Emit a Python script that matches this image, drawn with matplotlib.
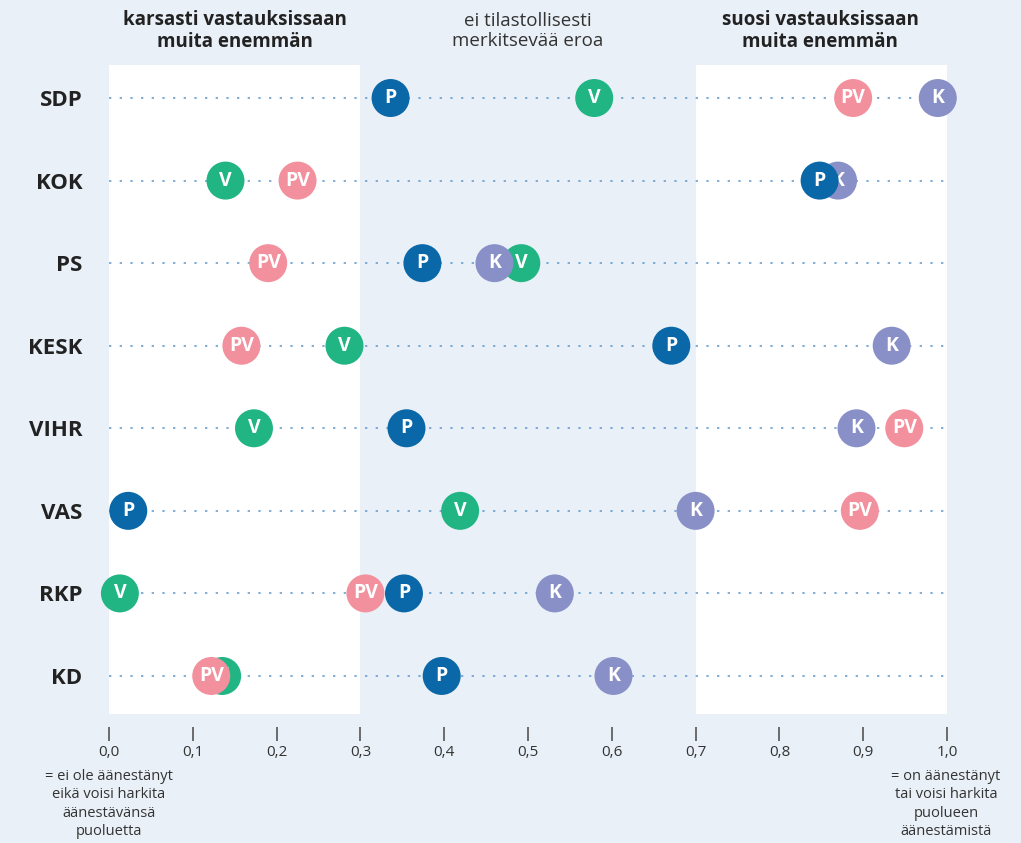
import matplotlib.pyplot as plt

# party rows, top to bottom
parties = ['SDP', 'KOK', 'PS', 'KESK', 'VIHR', 'VAS', 'RKP', 'KD']

# values (0 = ei ole äänestänyt ..., 1 = on äänestänyt ...)
v_vals = [0.579, 0.139, 0.492, 0.281, 0.173, 0.419, 0.013, 0.135]
k_vals = [0.989, 0.870, 0.460, 0.934, 0.892, 0.700, 0.532, 0.602]
p_vals = [0.336, 0.848, 0.374, 0.671, 0.355, 0.023, 0.352, 0.397]
pv_vals = [0.888, 0.225, 0.190, 0.158, 0.949, 0.896, 0.306, 0.122]

groups = ['V', 'K', 'P', 'PV']
group_vals = [v_vals, k_vals, p_vals, pv_vals]
group_colors = ['#21b583', '#8990c8', '#0a67a8', '#f3909d']

x_ticks = [0.0, 0.1, 0.2, 0.3, 0.4, 0.5, 0.6, 0.7, 0.8, 0.9, 1.0]

bg = '#e9f0f7'
font = 'Open Sans'

W, H = 1021, 843
fig = plt.figure(figsize=(W / 100, H / 100), dpi=100, facecolor=bg)
# axes placed in pixel terms: x 109..947, y 65..727
ax = fig.add_axes([109 / W, 1 - 727 / H, (947 - 109) / W, (727 - 65) / H])
ax.set_facecolor(bg)

ax.set_xlim(0, 1)
ax.set_ylim(7.618, -0.4)

# white zones (significant difference)
band_ymin = (727 - 714) / (727 - 65)
ax.axvspan(0, 0.3, ymin=band_ymin, ymax=1, color='white', lw=0, zorder=0)
ax.axvspan(0.7, 1.0, ymin=band_ymin, ymax=1, color='white', lw=0, zorder=0)

rows = list(range(len(parties)))
ax.hlines(rows, 0, 1, colors='#6b9fd4', linestyles=(0, (1.4, 5)), lw=1.2, zorder=1)

for gi, (name, vals, col) in enumerate(zip(groups, group_vals, group_colors)):
    ax.scatter(vals, rows, s=748, color=col, edgecolors='none', zorder=2 + gi * 2, clip_on=False)
    for x, y in zip(vals, rows):
        ax.text(x, y, name, ha='center', va='center', color='white', fontsize=14,
                fontweight='bold', family=font, zorder=3 + gi * 2)

for s in ax.spines.values():
    s.set_visible(False)

ax.set_yticks(rows)
ax.set_yticklabels(parties, fontsize=16, fontweight='bold', family=font, color='#222222')
ax.tick_params(axis='y', length=0, pad=19)

ax.set_xticks(x_ticks)
ax.set_xticklabels([('%.1f' % t).replace('.', ',') for t in x_ticks], fontsize=11,
                   family=font, color='#333333')
ax.tick_params(axis='x', direction='out', length=10, width=1.2, color='#555555', pad=3)

# headers
hdr_y = 1 - 31 / H
fig.text(235 / W, hdr_y, 'karsasti vastauksissaan\nmuita enemmän', ha='center', va='center',
         fontsize=13.5, fontweight='bold', family=font, color='#222222', linespacing=1.15)
fig.text(528 / W, hdr_y, 'ei tilastollisesti\nmerkitsevää eroa', ha='center', va='center',
         fontsize=13.5, family=font, color='#333333', linespacing=1.15)
fig.text(820 / W, hdr_y, 'suosi vastauksissaan\nmuita enemmän', ha='center', va='center',
         fontsize=13.5, fontweight='bold', family=font, color='#222222', linespacing=1.15)

# scale notes
fig.text(109 / W, 1 - 769 / H, '= ei ole äänestänyt\neikä voisi harkita\näänestävänsä\npuoluetta',
         ha='center', va='top', fontsize=10.5, family=font, color='#333333', linespacing=1.3)
fig.text(946 / W, 1 - 769 / H, '= on äänestänyt\ntai voisi harkita\npuolueen\näänestämistä',
         ha='center', va='top', fontsize=10.5, family=font, color='#333333', linespacing=1.3)

fig.savefig('out.png', dpi=100, facecolor=bg)
